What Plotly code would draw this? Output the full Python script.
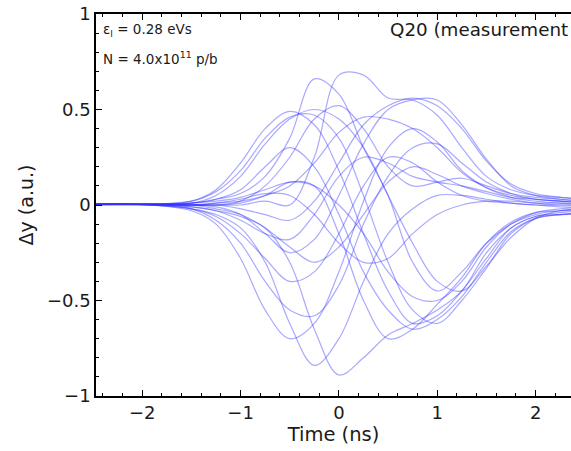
import plotly.graph_objects as go

# time grid (ns)
t = [-2.5, -2.0, -1.5, -1.25, -1.0, -0.75, -0.5, -0.25, 0.0, 0.25, 0.5, 0.75, 1.0, 1.25, 1.5, 1.75, 2.0, 2.25, 2.5]

c01 = [0.004, 0.003, 0.0, 0.0, 0.0, 0.02, 0.0, 0.25, 0.68, 0.68, 0.56, 0.55, 0.47, 0.30, 0.15, 0.08, 0.05, 0.04, 0.03]
c02 = [0.002, 0.004, 0.01, 0.03, 0.06, 0.15, 0.35, 0.66, 0.58, 0.30, 0.05, -0.30, -0.45, -0.35, -0.20, -0.10, -0.04, -0.02, -0.01]
c03 = [0.006, 0.005, 0.02, 0.08, 0.22, 0.40, 0.49, 0.42, 0.18, -0.15, -0.45, -0.62, -0.58, -0.45, -0.28, -0.12, -0.06, -0.04, -0.03]
c04 = [0.003, 0.004, 0.02, 0.07, 0.18, 0.35, 0.46, 0.47, 0.35, 0.05, -0.30, -0.55, -0.62, -0.50, -0.33, -0.15, -0.07, -0.05, -0.04]
c05 = [0.005, 0.006, 0.01, 0.05, 0.15, 0.32, 0.45, 0.50, 0.45, 0.30, 0.05, -0.20, -0.40, -0.45, -0.32, -0.17, -0.07, -0.03, -0.02]
c06 = [0.002, 0.002, 0, 0, -0.02, -0.05, -0.08, 0.02, 0.22, 0.42, 0.52, 0.56, 0.52, 0.40, 0.23, 0.11, 0.06, 0.04, 0.03]
c07 = [0.004, 0.002, 0, -0.01, -0.05, -0.15, -0.25, -0.18, 0.05, 0.32, 0.50, 0.55, 0.55, 0.42, 0.24, 0.10, 0.05, 0.03, 0.02]
c08 = [0.003, 0.005, 0, 0.01, 0.02, 0.05, 0.10, 0.22, 0.38, 0.46, 0.45, 0.40, 0.30, 0.17, 0.09, 0.05, 0.03, 0.02, 0.01]
c09 = [0.004, 0.002, -0.03, -0.10, -0.28, -0.55, -0.70, -0.62, -0.35, 0.02, 0.30, 0.40, 0.33, 0.18, 0.09, 0.04, 0.02, 0.01, 0.01]
c10 = [0.006, 0.004, -0.02, -0.08, -0.20, -0.40, -0.55, -0.58, -0.42, -0.10, 0.15, 0.30, 0.32, 0.22, 0.12, 0.06, 0.03, 0.02, 0.01]
c11 = [0.002, 0.001, -0.02, -0.06, -0.15, -0.28, -0.40, -0.35, -0.15, 0.10, 0.25, 0.22, 0.12, 0.05, 0.02, 0.01, 0.0, -0.01, -0.01]
c12 = [0.003, 0.003, -0.01, -0.03, -0.06, -0.12, -0.30, -0.65, -0.89, -0.80, -0.68, -0.62, -0.55, -0.45, -0.25, -0.12, -0.06, -0.05, -0.05]
c13 = [0.005, 0.002, -0.02, -0.05, -0.12, -0.30, -0.62, -0.84, -0.70, -0.40, -0.15, -0.02, 0.05, 0.05, 0.03, 0.01, 0.0, 0.0, 0.0]
c14 = [0.004, 0.004, 0, 0, 0.01, 0.05, 0.12, 0.10, -0.15, -0.50, -0.70, -0.65, -0.52, -0.38, -0.20, -0.09, -0.04, -0.03, -0.02]
c15 = [0.002, 0.003, 0.01, 0.03, 0.08, 0.20, 0.30, 0.20, -0.05, -0.35, -0.55, -0.65, -0.60, -0.48, -0.30, -0.14, -0.07, -0.05, -0.04]
c16 = [0.005, 0.005, 0, 0.01, 0.03, 0.06, 0.05, -0.05, -0.20, -0.30, -0.28, -0.15, -0.05, 0.0, 0.02, 0.02, 0.01, 0.01, 0.0]
c17 = [0.003, 0.002, -0.01, -0.03, -0.08, -0.15, -0.18, -0.05, 0.15, 0.25, 0.22, 0.15, 0.12, 0.10, 0.07, 0.04, 0.03, 0.02, 0.02]
c18 = [0.006, 0.004, 0, -0.02, -0.05, -0.12, -0.22, -0.30, -0.22, -0.05, 0.12, 0.20, 0.16, 0.10, 0.06, 0.03, 0.01, 0.0, 0.0]
c19 = [0.002, 0.004, 0.01, 0.02, 0.04, 0.08, 0.12, 0.10, 0.0, -0.15, -0.35, -0.48, -0.50, -0.40, -0.22, -0.10, -0.05, -0.03, -0.03]
c20 = [0.004, 0.003, 0, 0, 0.02, 0.10, 0.25, 0.45, 0.52, 0.40, 0.20, 0.10, 0.12, 0.14, 0.10, 0.06, 0.04, 0.03, 0.02]

curves = [c01, c02, c03, c04, c05, c06, c07, c08, c09, c10,
          c11, c12, c13, c14, c15, c16, c17, c18, c19, c20]

x_ticks = [-2, -1, 0, 1, 2]
x_tick_text = ["\u22122", "\u22121", "0", "1", "2"]
y_ticks = [-1, -0.5, 0, 0.5, 1]
y_tick_text = ["\u22121", "\u22120.5", "0", "0.5", "1"]

fig = go.Figure()
for c in curves:
    fig.add_trace(go.Scatter(
        x=t, y=c, mode="lines",
        line=dict(color="rgba(50,50,255,0.42)", width=1.2, shape="spline", smoothing=1.0),
        showlegend=False, hoverinfo="skip"))

font = "DejaVu Sans, Verdana, sans-serif"
fig.update_layout(
    width=571, height=451,
    margin=dict(l=96, r=0, t=14, b=55),
    paper_bgcolor="white", plot_bgcolor="white",
    font=dict(family=font, size=18, color="#1a1a1a"),
    showlegend=False,
)
fig.update_xaxes(
    range=[-2.47, 2.36], tickvals=x_ticks, ticktext=x_tick_text,
    showgrid=False, zeroline=False, showline=True, linecolor="black", linewidth=1.6,
    mirror="ticks", ticks="inside", ticklen=6, tickcolor="black", tickwidth=1.2,
    minor=dict(dtick=0.2, tick0=0, ticks="inside", ticklen=3.5, tickcolor="black", tickwidth=1),
    title=dict(text="Time (ns)", font=dict(size=19.5), standoff=5),
)
fig.update_yaxes(
    range=[-1, 1], tickvals=y_ticks, ticktext=y_tick_text,
    showgrid=False, zeroline=False, showline=True, linecolor="black", linewidth=1.6,
    mirror=False, ticks="inside", ticklen=6, tickcolor="black", tickwidth=1.2,
    minor=dict(dtick=0.1, tick0=0, ticks="inside", ticklen=3.5, tickcolor="black", tickwidth=1),
    title=dict(text="\u0394y (a.u.)", font=dict(size=19), standoff=8),
)
fig.add_annotation(xref="paper", yref="paper", x=0.01, y=0.957, xanchor="left", yanchor="middle",
                   text="\u03b5<sub>l</sub> = 0.28 eVs", showarrow=False,
                   font=dict(size=13.5, color="#1a1a1a", family=font))
fig.add_annotation(xref="paper", yref="paper", x=0.01, y=0.885, xanchor="left", yanchor="middle",
                   text="N = 4.0x10<sup>11</sup> p/b", showarrow=False,
                   font=dict(size=13.5, color="#1a1a1a", family=font))
fig.add_annotation(xref="paper", yref="paper", x=0.997, y=0.96, xanchor="right", yanchor="middle",
                   text="Q20 (measurement", showarrow=False,
                   font=dict(size=18.3, color="#1a1a1a", family=font))

fig.write_html("out.html")
